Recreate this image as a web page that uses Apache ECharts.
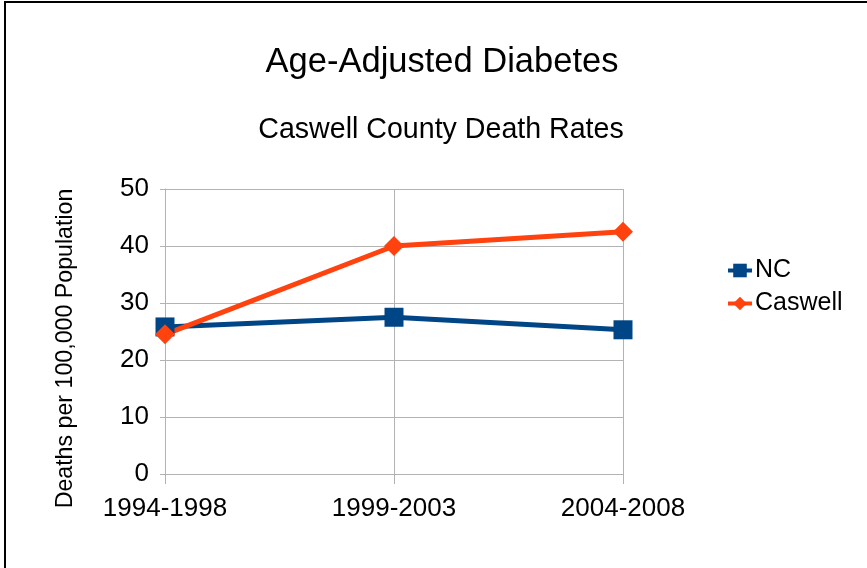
<!DOCTYPE html>
<html>
<head>
<meta charset="utf-8">
<script src="https://cdn.jsdelivr.net/npm/echarts@6/dist/echarts.min.js"></script>
<style>html,body{margin:0;padding:0;background:#fff}#c{width:867px;height:568px}</style>
</head>
<body>
<div id="c"></div>
<script>
const categories = ['1994-1998', '1999-2003', '2004-2008'];
const ncValues = [25.8, 27.5, 25.3];
const caswellValues = [24.5, 40.0, 42.5];
const seriesNames = ['NC', 'Caswell'];
const titleText = 'Age-Adjusted Diabetes';
const subtitleText = 'Caswell County Death Rates';
const yAxisName = 'Deaths per 100,000 Population';

const font = 'Liberation Sans, Arial, sans-serif';
const chart = echarts.init(document.getElementById('c'));
chart.setOption({
  animation: false,
  backgroundColor: '#fff',
  title: [
    { text: titleText, left: 437, top: 40, textAlign: 'center',
      textStyle: { fontFamily: font, fontSize: 34.5, fontWeight: 'normal', color: '#000' } },
    { text: subtitleText, left: 436, top: 111, textAlign: 'center',
      textStyle: { fontFamily: font, fontSize: 28.6, fontWeight: 'normal', color: '#000' } }
  ],
  graphic: [{
    type: 'rect', shape: { x: 5, y: 2, width: 900, height: 600 },
    style: { fill: 'none', stroke: '#000', lineWidth: 2 }, silent: true
  }],
  legend: {
    orient: 'vertical', left: 721, top: 253, itemWidth: 24, itemHeight: 17, itemGap: 8,
    lineStyle: { width: 4 },
    textStyle: { fontFamily: font, fontSize: 25, color: '#000', padding: [0, 0, 0, -2] },
    data: seriesNames
  },
  grid: { left: 165, top: 189, width: 458, height: 285, containLabel: false },
  xAxis: {
    type: 'category', data: categories, boundaryGap: false,
    axisLine: { lineStyle: { color: '#b3b3b3', width: 1 } },
    axisTick: { show: true, alignWithLabel: true, length: 10, lineStyle: { color: '#b3b3b3' } },
    splitLine: { show: true, lineStyle: { color: '#b3b3b3', width: 1 } },
    axisLabel: { fontFamily: font, fontSize: 26, color: '#000', margin: 22 }
  },
  yAxis: {
    type: 'value', min: 0, max: 50, interval: 10,
    name: yAxisName, nameLocation: 'middle', nameGap: 88,
    nameTextStyle: { fontFamily: font, fontSize: 23.2, color: '#000', padding: [0, 34, 0, 0] },
    axisLine: { show: true, lineStyle: { color: '#b3b3b3', width: 1 } },
    axisTick: { show: true, length: 5, lineStyle: { color: '#b3b3b3' } },
    splitLine: { show: true, lineStyle: { color: '#b3b3b3', width: 1 } },
    axisLabel: { fontFamily: font, fontSize: 26, color: '#000', margin: 16 }
  },
  series: [
    { name: seriesNames[0], type: 'line', data: ncValues, symbol: 'rect', symbolSize: 19,
      lineStyle: { color: '#004586', width: 5 }, itemStyle: { color: '#004586' } },
    { name: seriesNames[1], type: 'line', data: caswellValues, symbol: 'diamond', symbolSize: 20,
      lineStyle: { color: '#ff420e', width: 5 }, itemStyle: { color: '#ff420e' } }
  ]
});
</script>
</body>
</html>
